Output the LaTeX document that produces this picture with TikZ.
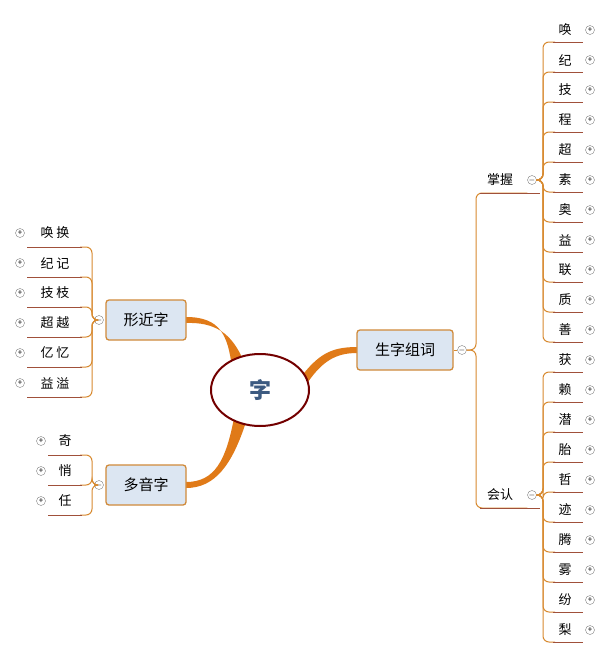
\documentclass[tikz,border=0pt]{standalone}
\usepackage{fontspec}
\setmainfont{Noto Sans CJK SC}
\usetikzlibrary{shapes.geometric}
\definecolor{boxfill}{HTML}{DCE6F2}
\definecolor{boxdraw}{HTML}{D08A3A}
\definecolor{thk}{HTML}{E07A18}
\definecolor{brc}{HTML}{D88A30}
\definecolor{ulc}{HTML}{A0503A}
\definecolor{rootc}{HTML}{3C5A80}
\begin{document}
\begin{tikzpicture}[x=1pt,y=-1pt,
  cat/.style={draw=boxdraw,line width=1.3pt,fill=boxfill,rounded corners=3pt,minimum width=80pt,minimum height=40pt,font=\fontsize{15}{15}\selectfont},
  leaf/.style={font=\fontsize{13}{13}\selectfont,inner sep=1pt},
  tog/.style={circle,draw=gray,inner sep=0pt,minimum size=9pt,fill=white,font=\fontsize{8}{8}\selectfont},
  br/.style={draw=brc,line width=1pt,rounded corners=6pt},
  ul/.style={draw=ulc,line width=1pt},
  thick/.style={fill=thk}]
\useasboundingbox (0,0) rectangle (611,659);
\fill[white] (0,0) rectangle (611,659);
% tapered main connectors
\fill[thick] (186,317) .. controls (220,317) and (228,335) .. (232,368) -- (244,362) .. controls (232,333) and (215,322) .. (186,323) -- cycle;
\fill[thick] (186,482) .. controls (215,482) and (226,460) .. (234,418) -- (246,422) .. controls (232,465) and (215,488) .. (186,488) -- cycle;
\fill[thick] (357,347) .. controls (330,347) and (318,355) .. (300,378) -- (308,382) .. controls (322,362) and (335,353) .. (357,353) -- cycle;
\node[ellipse,draw=red!45!black,line width=2pt,fill=white,minimum width=98pt,minimum height=72pt,font=\fontsize{22}{22}\bfseries\selectfont,text=rootc] (root) at (260,390) {字};
\node[cat] (xj) at (146,320) {形近字};
\node[cat] (dy) at (146,485) {多音字};
\node[cat,minimum width=96pt] (sz) at (405,350) {生字组词};
% xingjinzi
\node[tog] (xjm) at (99,320) {$-$};
\foreach \t [count=\i] in {唤\ 换,纪\ 记,技\ 枝,超\ 越,亿\ 忆,益\ 溢}{
  \node[leaf] (xl\i) at (55,203+30*\i) {\t};
  \node[tog] (xp\i) at (20,203+30*\i) {+};
  \coordinate (xe\i) at (27,217+30*\i);
  \path[br] (xjm.west) -- (92,320) |- (80,217+30*\i);
  \draw[ul] (82,217+30*\i) -- (xe\i);
}
% duoyinzi
\node[tog] (dym) at (99,485) {$-$};
\foreach \t [count=\i] in {奇,悄,任}{
  \node[leaf] (dl\i) at (65,411+30*\i) {\t};
  \node[tog] (dp\i) at (41,411+30*\i) {+};
  \coordinate (de\i) at (48,425+30*\i);
  \path[br] (dym.west) -- (92,485) |- (80,425+30*\i);
  \draw[ul] (82,425+30*\i) -- (de\i);
}
% shengzi
\node[tog] (szm) at (462,350) {$-$};
\draw[brc,line width=1pt] (sz.east) -- (szm.west);
\node[leaf] (zw) at (500,180) {掌握};
\node[tog] (zwm) at (532,180) {$-$};
\node[leaf] (hr) at (500,495) {会认};
\node[tog] (hrm) at (532,495) {$-$};
\path[br] (szm.east) -- (476,350) |- (zwm.west|-0,193);
\path[br] (szm.east) -- (476,350) |- (hrm.west|-0,508);
\draw[ul] (480,193) -- (540,193);
\draw[ul] (480,508) -- (540,508);
\foreach \t [count=\i] in {唤,纪,技,程,超,素,奥,益,联,质,善}{
  \node[leaf] (zl\i) at (565,0+30*\i) {\t};
  \node[tog] (zp\i) at (590,0+30*\i) {+};
  \coordinate (ze\i) at (583,12+30*\i);
  \path[br] (zwm.east) -- (543,180) |- (555,12+30*\i);
  \draw[ul] (553,12+30*\i) -- (ze\i);
}
\foreach \t [count=\i] in {获,赖,潜,胎,哲,迹,腾,雾,纷,梨}{
  \node[leaf] (hl\i) at (565,330+30*\i) {\t};
  \node[tog] (hp\i) at (590,330+30*\i) {+};
  \coordinate (he\i) at (583,342+30*\i);
  \path[br] (hrm.east) -- (543,495) |- (555,342+30*\i);
  \draw[ul] (553,342+30*\i) -- (he\i);
}
\end{tikzpicture}
\end{document}
